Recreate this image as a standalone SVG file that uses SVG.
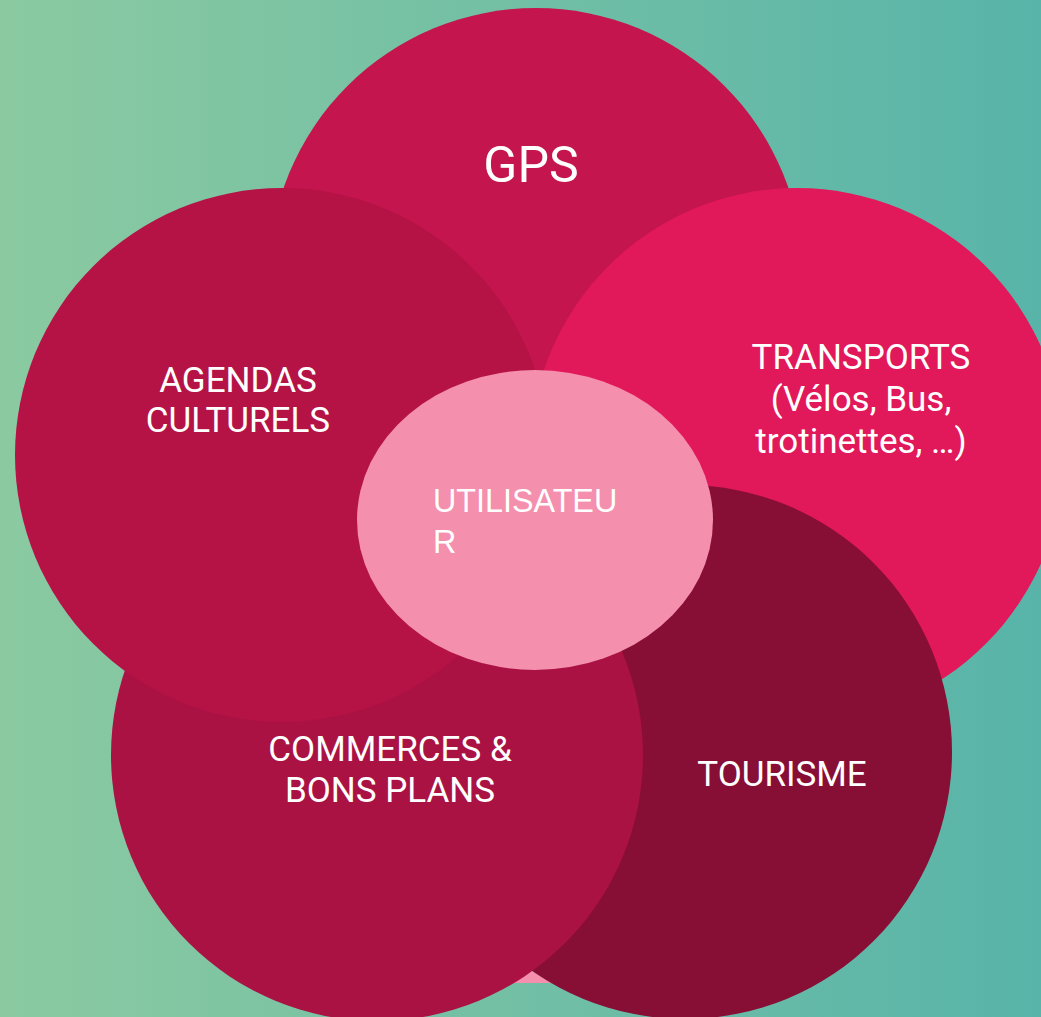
<svg xmlns="http://www.w3.org/2000/svg" width="1041" height="1017" viewBox="0 0 1041 1017">
<defs>
<linearGradient id="bg" x1="0" y1="0" x2="1" y2="0">
<stop offset="0" stop-color="#8bcaa1"/>
<stop offset="1" stop-color="#58b4a9"/>
</linearGradient>
</defs>
<style>
.lbl{font-family:Roboto,"Liberation Sans",sans-serif;fill:#ffffff;text-anchor:middle;font-size:35px}
.u{font-family:"Liberation Sans",Arial,sans-serif;fill:#ffffff;font-size:32.3px}
</style>
<rect x="0" y="0" width="1041" height="1017" fill="url(#bg)"/>
<rect x="470" y="880" width="130" height="103" fill="#f48fae"/>
<g id="gps">
<circle cx="536" cy="275" r="267" fill="#c4154e"/>
<text class="lbl" x="531" y="182" style="font-size:50px">GPS</text>
</g>
<g id="transports">
<circle cx="797" cy="455" r="267" fill="#e1185a"/>
<text class="lbl" x="861" y="369">TRANSPORTS</text>
<text class="lbl" x="861" y="411">(Vélos, Bus,</text>
<text class="lbl" x="861" y="453">trotinettes, …)</text>
</g>
<g id="tourisme">
<circle cx="685" cy="752" r="267" fill="#870e34"/>
<text class="lbl" x="782" y="786">TOURISME</text>
</g>
<g id="commerces">
<circle cx="377" cy="755" r="266" fill="#aa1244"/>
<text class="lbl" x="390" y="761">COMMERCES &amp;</text>
<text class="lbl" x="390" y="802">BONS PLANS</text>
</g>
<g id="agendas">
<circle cx="282" cy="455" r="267" fill="#b51246"/>
<text class="lbl" x="238" y="392">AGENDAS</text>
<text class="lbl" x="238" y="432">CULTURELS</text>
</g>
<g id="utilisateur">
<ellipse cx="535" cy="520" rx="178" ry="150" fill="#f48fae"/>
<text class="u" x="433" y="512">UTILISATEU</text>
<text class="u" x="433" y="553">R</text>
</g>
<g id="connectors"></g>
</svg>
